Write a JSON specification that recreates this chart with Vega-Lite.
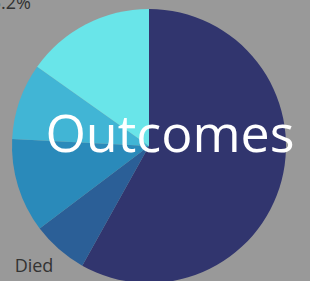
{
  "$schema": "https://vega.github.io/schema/vega-lite/v6.json",
  "width": 298,
  "height": 270,
  "autosize": {"type": "none"},
  "padding": {"left": 0, "right": 12, "top": 11, "bottom": 0},
  "background": "#999999",
  "view": {"stroke": null},
  "data": {
    "values": [
      {"outcome": "Recovered", "share": 58.1, "rank": 1, "nameLabel": "", "pctLabel": ""},
      {"outcome": "Died", "share": 6.6, "rank": 2, "nameLabel": "Died", "pctLabel": ""},
      {"outcome": "Transferred", "share": 11.1, "rank": 3, "nameLabel": "", "pctLabel": ""},
      {"outcome": "Ongoing", "share": 9.0, "rank": 4, "nameLabel": "", "pctLabel": ""},
      {"outcome": "Other", "share": 15.2, "rank": 5, "nameLabel": "", "pctLabel": "15.2%"}
    ]
  },
  "layer": [
    {
      "mark": {"type": "arc", "outerRadius": 137},
      "encoding": {
        "theta": {"field": "share", "type": "quantitative", "stack": true},
        "order": {"field": "rank", "type": "quantitative"},
        "color": {
          "field": "outcome",
          "type": "nominal",
          "scale": {
            "domain": ["Recovered", "Died", "Transferred", "Ongoing", "Other"],
            "range": ["#31356e", "#2b5f97", "#2a8aba", "#41b5d5", "#69e5e9"]
          },
          "legend": null
        }
      }
    },
    {
      "mark": {"type": "text", "radius": 166, "font": "Open Sans", "fontSize": 18, "color": "#333333", "dx": -6, "dy": -4},
      "encoding": {
        "theta": {"field": "share", "type": "quantitative", "stack": true},
        "order": {"field": "rank", "type": "quantitative"},
        "text": {"field": "nameLabel"}
      }
    },
    {
      "mark": {"type": "text", "radius": 166, "font": "Open Sans", "fontSize": 18, "color": "#333333", "dx": -67, "dy": 5},
      "encoding": {
        "theta": {"field": "share", "type": "quantitative", "stack": true},
        "order": {"field": "rank", "type": "quantitative"},
        "text": {"field": "pctLabel"}
      }
    },
    {
      "data": {"values": [{"title": "Outcomes"}]},
      "mark": {"type": "text", "font": "Open Sans", "fontSize": 52, "color": "#ffffff", "baseline": "middle", "dx": 21, "dy": -10},
      "encoding": {"text": {"field": "title"}}
    }
  ]
}
